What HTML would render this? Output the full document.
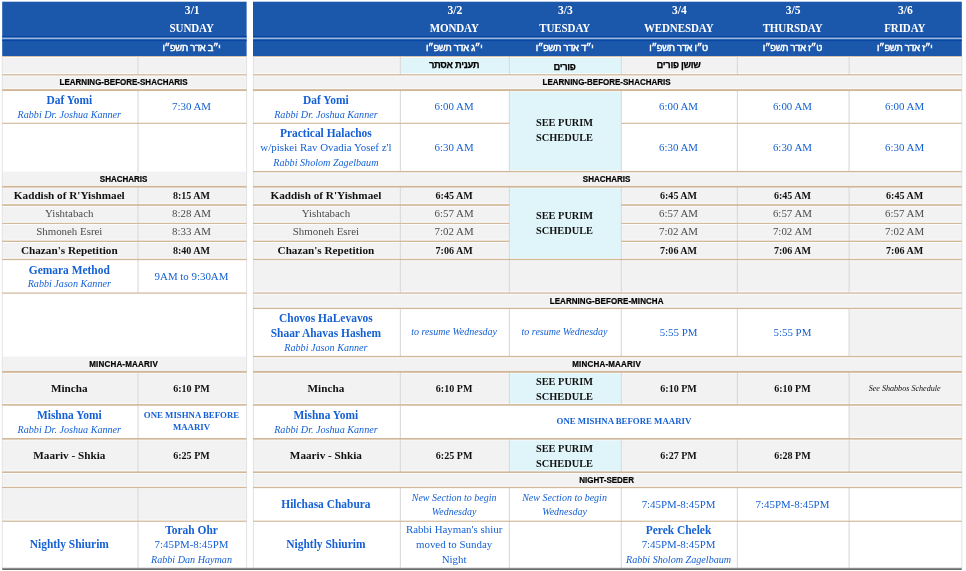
<!DOCTYPE html>
<html><head><meta charset="utf-8"><title>Schedule</title>
<style>
html,body{margin:0;padding:0;background:#fff;}
body{width:966px;height:571px;overflow:hidden;position:relative;font-family:"Liberation Serif",serif;}
svg{position:absolute;left:0;top:0;}
.c{filter:blur(0.3px);position:absolute;display:flex;align-items:center;justify-content:center;text-align:center;white-space:nowrap;box-sizing:border-box;padding-right:1.6px;}
.t{display:block;margin-top:-0.6px;}
.t.m{margin-top:2px;}
.l{font-size:10.9px;line-height:14.8px;height:14.8px;}
.l.b{font-size:11.45px;font-weight:bold;}
.l.i{font-size:10.15px;font-style:italic;}
.kb .l.b{font-size:11.2px;}
.kb .l.bt{font-size:10.05px;position:relative;top:1px;}
.kg .l{position:relative;top:-0.7px;}
.m .l:not(.b):not(.i){position:relative;top:-1px;}
.bl{color:#1560d4;}
.kb{color:#111;}
.kg{color:#4c4c4c;}
.kk{color:#111;}
.w{color:#fff;font-weight:bold;}
.hd{display:block;font-size:11.6px;line-height:17.5px;padding-top:0px;padding-left:1.5px;}
.dy{font-size:11px;letter-spacing:-0.1px;transform:scaleY(1.13);position:relative;top:-0.3px;left:-0.6px;}
.hb{display:block;font-family:"Liberation Sans",sans-serif;font-weight:normal;font-size:9.4px;line-height:12px;direction:rtl;letter-spacing:-0.3px;-webkit-text-stroke:0.45px #fff;padding-top:1px;}
.hk{display:block;font-family:"Liberation Sans",sans-serif;font-weight:bold;font-size:9.4px;line-height:12px;color:#000;direction:rtl;letter-spacing:-0.3px;-webkit-text-stroke:0.25px #000;}
.sec{display:block;font-family:"Liberation Sans",sans-serif;font-weight:bold;font-size:8px;letter-spacing:0;color:#000;line-height:10px;padding-top:0.5px;-webkit-text-stroke:0.2px #000;transform:scaleY(1.1);}
.pur{display:block;font-weight:bold;font-size:10.35px;line-height:14.3px;color:#111;padding-top:2.4px;}
.one{display:block;font-weight:bold;font-size:8.8px;line-height:11.7px;padding-top:0.5px;}
.l.sm{font-size:10px;}
.l.shab{font-size:8.1px;position:relative;top:1.2px;}
</style></head>
<body>
<svg width="966" height="571" viewBox="0 0 966 571">
<rect x="2.20" y="1.70" width="244.40" height="54.40" fill="#1b57ab"/>
<rect x="2.20" y="35.95" width="244.40" height="1.20" fill="#0646a2"/>
<rect x="2.20" y="39.85" width="244.40" height="1.20" fill="#0646a2"/>
<rect x="2.20" y="37.62" width="244.40" height="1.55" fill="#9cb7e0"/>
<rect x="2.20" y="56.10" width="244.40" height="34.00" fill="#f2f2f2"/>
<rect x="2.20" y="171.60" width="244.40" height="87.90" fill="#f2f2f2"/>
<rect x="2.20" y="356.50" width="244.40" height="48.40" fill="#f2f2f2"/>
<rect x="2.20" y="438.80" width="244.40" height="48.70" fill="#f2f2f2"/>
<rect x="253.00" y="1.70" width="708.80" height="54.40" fill="#1b57ab"/>
<rect x="253.00" y="35.95" width="708.80" height="1.20" fill="#0646a2"/>
<rect x="253.00" y="39.85" width="708.80" height="1.20" fill="#0646a2"/>
<rect x="253.00" y="37.62" width="708.80" height="1.55" fill="#9cb7e0"/>
<rect x="253.00" y="56.10" width="708.80" height="34.00" fill="#f2f2f2"/>
<rect x="253.00" y="171.60" width="708.80" height="121.50" fill="#f2f2f2"/>
<rect x="253.00" y="356.50" width="708.80" height="48.40" fill="#f2f2f2"/>
<rect x="253.00" y="438.80" width="708.80" height="48.70" fill="#f2f2f2"/>
<rect x="2.20" y="487.50" width="244.40" height="33.75" fill="#f2f2f2"/>
<rect x="253.00" y="293.10" width="708.80" height="15.30" fill="#f2f2f2"/>
<rect x="849.10" y="308.40" width="112.70" height="48.10" fill="#f2f2f2"/>
<rect x="849.10" y="404.90" width="112.70" height="33.90" fill="#f2f2f2"/>
<rect x="400.40" y="56.10" width="220.90" height="18.70" fill="#e0f5fa"/>
<rect x="509.40" y="90.10" width="111.90" height="81.50" fill="#e0f5fa"/>
<rect x="509.40" y="186.70" width="111.90" height="72.80" fill="#e0f5fa"/>
<rect x="509.40" y="371.80" width="111.90" height="33.10" fill="#e0f5fa"/>
<rect x="509.40" y="438.80" width="111.90" height="33.40" fill="#e0f5fa"/>
<rect x="2.20" y="56.85" width="244.40" height="0.9" fill="#fff" opacity="0.8"/>
<rect x="2.20" y="73.15" width="244.40" height="0.9" fill="#fff" opacity="0.8"/>
<rect x="2.20" y="75.55" width="244.40" height="0.9" fill="#fff" opacity="0.8"/>
<rect x="2.20" y="88.45" width="244.40" height="0.9" fill="#fff" opacity="0.8"/>
<rect x="2.20" y="90.85" width="244.40" height="0.9" fill="#fff" opacity="0.8"/>
<rect x="2.20" y="121.65" width="244.40" height="0.9" fill="#fff" opacity="0.8"/>
<rect x="2.20" y="124.05" width="244.40" height="0.9" fill="#fff" opacity="0.8"/>
<rect x="2.20" y="185.05" width="244.40" height="0.9" fill="#fff" opacity="0.8"/>
<rect x="2.20" y="187.45" width="244.40" height="0.9" fill="#fff" opacity="0.8"/>
<rect x="2.20" y="203.35" width="244.40" height="0.9" fill="#fff" opacity="0.8"/>
<rect x="2.20" y="205.75" width="244.40" height="0.9" fill="#fff" opacity="0.8"/>
<rect x="2.20" y="221.75" width="244.40" height="0.9" fill="#fff" opacity="0.8"/>
<rect x="2.20" y="224.15" width="244.40" height="0.9" fill="#fff" opacity="0.8"/>
<rect x="2.20" y="239.65" width="244.40" height="0.9" fill="#fff" opacity="0.8"/>
<rect x="2.20" y="242.05" width="244.40" height="0.9" fill="#fff" opacity="0.8"/>
<rect x="2.20" y="257.85" width="244.40" height="0.9" fill="#fff" opacity="0.8"/>
<rect x="2.20" y="260.25" width="244.40" height="0.9" fill="#fff" opacity="0.8"/>
<rect x="2.20" y="291.45" width="244.40" height="0.9" fill="#fff" opacity="0.8"/>
<rect x="2.20" y="293.85" width="244.40" height="0.9" fill="#fff" opacity="0.8"/>
<rect x="2.20" y="370.15" width="244.40" height="0.9" fill="#fff" opacity="0.8"/>
<rect x="2.20" y="372.55" width="244.40" height="0.9" fill="#fff" opacity="0.8"/>
<rect x="2.20" y="403.25" width="244.40" height="0.9" fill="#fff" opacity="0.8"/>
<rect x="2.20" y="405.65" width="244.40" height="0.9" fill="#fff" opacity="0.8"/>
<rect x="2.20" y="437.15" width="244.40" height="0.9" fill="#fff" opacity="0.8"/>
<rect x="2.20" y="439.55" width="244.40" height="0.9" fill="#fff" opacity="0.8"/>
<rect x="2.20" y="470.55" width="244.40" height="0.9" fill="#fff" opacity="0.8"/>
<rect x="2.20" y="472.95" width="244.40" height="0.9" fill="#fff" opacity="0.8"/>
<rect x="2.20" y="485.85" width="244.40" height="0.9" fill="#fff" opacity="0.8"/>
<rect x="2.20" y="488.25" width="244.40" height="0.9" fill="#fff" opacity="0.8"/>
<rect x="2.20" y="519.60" width="244.40" height="0.9" fill="#fff" opacity="0.8"/>
<rect x="2.20" y="522.00" width="244.40" height="0.9" fill="#fff" opacity="0.8"/>
<rect x="253.00" y="56.85" width="708.80" height="0.9" fill="#fff" opacity="0.8"/>
<rect x="253.00" y="73.15" width="708.80" height="0.9" fill="#fff" opacity="0.8"/>
<rect x="253.00" y="75.55" width="708.80" height="0.9" fill="#fff" opacity="0.8"/>
<rect x="253.00" y="88.45" width="708.80" height="0.9" fill="#fff" opacity="0.8"/>
<rect x="253.00" y="90.85" width="708.80" height="0.9" fill="#fff" opacity="0.8"/>
<rect x="253.00" y="121.65" width="256.40" height="0.9" fill="#fff" opacity="0.8"/>
<rect x="621.30" y="121.65" width="340.50" height="0.9" fill="#fff" opacity="0.8"/>
<rect x="253.00" y="124.05" width="256.40" height="0.9" fill="#fff" opacity="0.8"/>
<rect x="621.30" y="124.05" width="340.50" height="0.9" fill="#fff" opacity="0.8"/>
<rect x="253.00" y="169.95" width="708.80" height="0.9" fill="#fff" opacity="0.8"/>
<rect x="253.00" y="172.35" width="708.80" height="0.9" fill="#fff" opacity="0.8"/>
<rect x="253.00" y="185.05" width="708.80" height="0.9" fill="#fff" opacity="0.8"/>
<rect x="253.00" y="187.45" width="708.80" height="0.9" fill="#fff" opacity="0.8"/>
<rect x="253.00" y="203.35" width="256.40" height="0.9" fill="#fff" opacity="0.8"/>
<rect x="621.30" y="203.35" width="340.50" height="0.9" fill="#fff" opacity="0.8"/>
<rect x="253.00" y="205.75" width="256.40" height="0.9" fill="#fff" opacity="0.8"/>
<rect x="621.30" y="205.75" width="340.50" height="0.9" fill="#fff" opacity="0.8"/>
<rect x="253.00" y="221.75" width="256.40" height="0.9" fill="#fff" opacity="0.8"/>
<rect x="621.30" y="221.75" width="340.50" height="0.9" fill="#fff" opacity="0.8"/>
<rect x="253.00" y="224.15" width="256.40" height="0.9" fill="#fff" opacity="0.8"/>
<rect x="621.30" y="224.15" width="340.50" height="0.9" fill="#fff" opacity="0.8"/>
<rect x="253.00" y="239.65" width="256.40" height="0.9" fill="#fff" opacity="0.8"/>
<rect x="621.30" y="239.65" width="340.50" height="0.9" fill="#fff" opacity="0.8"/>
<rect x="253.00" y="242.05" width="256.40" height="0.9" fill="#fff" opacity="0.8"/>
<rect x="621.30" y="242.05" width="340.50" height="0.9" fill="#fff" opacity="0.8"/>
<rect x="253.00" y="257.85" width="708.80" height="0.9" fill="#fff" opacity="0.8"/>
<rect x="253.00" y="260.25" width="708.80" height="0.9" fill="#fff" opacity="0.8"/>
<rect x="253.00" y="291.45" width="708.80" height="0.9" fill="#fff" opacity="0.8"/>
<rect x="253.00" y="293.85" width="708.80" height="0.9" fill="#fff" opacity="0.8"/>
<rect x="253.00" y="306.75" width="708.80" height="0.9" fill="#fff" opacity="0.8"/>
<rect x="253.00" y="309.15" width="708.80" height="0.9" fill="#fff" opacity="0.8"/>
<rect x="253.00" y="354.85" width="708.80" height="0.9" fill="#fff" opacity="0.8"/>
<rect x="253.00" y="357.25" width="708.80" height="0.9" fill="#fff" opacity="0.8"/>
<rect x="253.00" y="370.15" width="708.80" height="0.9" fill="#fff" opacity="0.8"/>
<rect x="253.00" y="372.55" width="708.80" height="0.9" fill="#fff" opacity="0.8"/>
<rect x="253.00" y="403.25" width="708.80" height="0.9" fill="#fff" opacity="0.8"/>
<rect x="253.00" y="405.65" width="708.80" height="0.9" fill="#fff" opacity="0.8"/>
<rect x="253.00" y="437.15" width="708.80" height="0.9" fill="#fff" opacity="0.8"/>
<rect x="253.00" y="439.55" width="708.80" height="0.9" fill="#fff" opacity="0.8"/>
<rect x="253.00" y="470.55" width="708.80" height="0.9" fill="#fff" opacity="0.8"/>
<rect x="253.00" y="472.95" width="708.80" height="0.9" fill="#fff" opacity="0.8"/>
<rect x="253.00" y="485.85" width="708.80" height="0.9" fill="#fff" opacity="0.8"/>
<rect x="253.00" y="488.25" width="708.80" height="0.9" fill="#fff" opacity="0.8"/>
<rect x="253.00" y="519.60" width="708.80" height="0.9" fill="#fff" opacity="0.8"/>
<rect x="253.00" y="522.00" width="708.80" height="0.9" fill="#fff" opacity="0.8"/>
<rect x="137.40" y="56.10" width="1.20" height="18.70" fill="#dcdcdc"/>
<rect x="137.40" y="90.10" width="1.20" height="81.50" fill="#dcdcdc"/>
<rect x="137.40" y="186.70" width="1.20" height="106.40" fill="#dcdcdc"/>
<rect x="137.40" y="371.80" width="1.20" height="100.40" fill="#dcdcdc"/>
<rect x="137.40" y="487.50" width="1.20" height="80.80" fill="#dcdcdc"/>
<rect x="399.80" y="56.10" width="1.20" height="18.70" fill="#dcdcdc"/>
<rect x="508.80" y="56.10" width="1.20" height="18.70" fill="#dcdcdc"/>
<rect x="620.70" y="56.10" width="1.20" height="18.70" fill="#dcdcdc"/>
<rect x="736.80" y="56.10" width="1.20" height="18.70" fill="#dcdcdc"/>
<rect x="848.50" y="56.10" width="1.20" height="18.70" fill="#dcdcdc"/>
<rect x="399.80" y="90.10" width="1.20" height="81.50" fill="#dcdcdc"/>
<rect x="508.80" y="90.10" width="1.20" height="81.50" fill="#dcdcdc"/>
<rect x="620.70" y="90.10" width="1.20" height="81.50" fill="#dcdcdc"/>
<rect x="736.80" y="90.10" width="1.20" height="81.50" fill="#dcdcdc"/>
<rect x="848.50" y="90.10" width="1.20" height="81.50" fill="#dcdcdc"/>
<rect x="399.80" y="186.70" width="1.20" height="106.40" fill="#dcdcdc"/>
<rect x="508.80" y="186.70" width="1.20" height="106.40" fill="#dcdcdc"/>
<rect x="620.70" y="186.70" width="1.20" height="106.40" fill="#dcdcdc"/>
<rect x="736.80" y="186.70" width="1.20" height="106.40" fill="#dcdcdc"/>
<rect x="848.50" y="186.70" width="1.20" height="106.40" fill="#dcdcdc"/>
<rect x="399.80" y="308.40" width="1.20" height="48.10" fill="#dcdcdc"/>
<rect x="508.80" y="308.40" width="1.20" height="48.10" fill="#dcdcdc"/>
<rect x="620.70" y="308.40" width="1.20" height="48.10" fill="#dcdcdc"/>
<rect x="736.80" y="308.40" width="1.20" height="48.10" fill="#dcdcdc"/>
<rect x="848.50" y="308.40" width="1.20" height="48.10" fill="#dcdcdc"/>
<rect x="399.80" y="371.80" width="1.20" height="100.40" fill="#dcdcdc"/>
<rect x="508.80" y="371.80" width="1.20" height="33.10" fill="#dcdcdc"/>
<rect x="508.80" y="438.80" width="1.20" height="33.40" fill="#dcdcdc"/>
<rect x="620.70" y="371.80" width="1.20" height="33.10" fill="#dcdcdc"/>
<rect x="620.70" y="438.80" width="1.20" height="33.40" fill="#dcdcdc"/>
<rect x="736.80" y="371.80" width="1.20" height="33.10" fill="#dcdcdc"/>
<rect x="736.80" y="438.80" width="1.20" height="33.40" fill="#dcdcdc"/>
<rect x="848.50" y="371.80" width="1.20" height="100.40" fill="#dcdcdc"/>
<rect x="399.80" y="487.50" width="1.20" height="80.80" fill="#dcdcdc"/>
<rect x="508.80" y="487.50" width="1.20" height="80.80" fill="#dcdcdc"/>
<rect x="620.70" y="487.50" width="1.20" height="80.80" fill="#dcdcdc"/>
<rect x="736.80" y="487.50" width="1.20" height="80.80" fill="#dcdcdc"/>
<rect x="848.50" y="487.50" width="1.20" height="80.80" fill="#dcdcdc"/>
<rect x="1.70" y="56.10" width="1.00" height="512.20" fill="#e3e3e3"/>
<rect x="246.10" y="56.10" width="1.00" height="512.20" fill="#e3e3e3"/>
<rect x="252.90" y="56.10" width="1.00" height="512.20" fill="#e3e3e3"/>
<rect x="961.30" y="56.10" width="1.00" height="512.20" fill="#e3e3e3"/>
<rect x="2.20" y="56.00" width="244.40" height="1.00" fill="#d8c3a8"/>
<rect x="253.00" y="56.00" width="708.80" height="1.00" fill="#d8c3a8"/>
<rect x="2.20" y="74.20" width="244.40" height="1.20" fill="#d1b797"/>
<rect x="2.20" y="89.15" width="244.40" height="1.90" fill="#d1b797"/>
<rect x="2.20" y="122.75" width="244.40" height="1.10" fill="#d1b797"/>
<rect x="2.20" y="185.80" width="244.40" height="1.80" fill="#d1b797"/>
<rect x="2.20" y="204.20" width="244.40" height="1.60" fill="#d1b797"/>
<rect x="2.20" y="222.85" width="244.40" height="1.10" fill="#d1b797"/>
<rect x="2.20" y="240.62" width="244.40" height="1.35" fill="#d1b797"/>
<rect x="2.20" y="258.85" width="244.40" height="1.30" fill="#d1b797"/>
<rect x="2.20" y="292.50" width="244.40" height="1.20" fill="#d1b797"/>
<rect x="2.20" y="370.85" width="244.40" height="1.90" fill="#d1b797"/>
<rect x="2.20" y="404.10" width="244.40" height="1.60" fill="#d1b797"/>
<rect x="2.20" y="438.00" width="244.40" height="1.60" fill="#d1b797"/>
<rect x="2.20" y="471.40" width="244.40" height="1.60" fill="#d1b797"/>
<rect x="2.20" y="486.88" width="244.40" height="1.25" fill="#d1b797"/>
<rect x="2.20" y="520.67" width="244.40" height="1.15" fill="#d1b797"/>
<rect x="253.00" y="74.20" width="708.80" height="1.20" fill="#d1b797"/>
<rect x="253.00" y="89.15" width="708.80" height="1.90" fill="#d1b797"/>
<rect x="253.00" y="122.75" width="256.40" height="1.10" fill="#d1b797"/>
<rect x="621.30" y="122.75" width="340.50" height="1.10" fill="#d1b797"/>
<rect x="253.00" y="170.95" width="708.80" height="1.30" fill="#d1b797"/>
<rect x="253.00" y="185.80" width="708.80" height="1.80" fill="#d1b797"/>
<rect x="253.00" y="204.20" width="256.40" height="1.60" fill="#d1b797"/>
<rect x="621.30" y="204.20" width="340.50" height="1.60" fill="#d1b797"/>
<rect x="253.00" y="222.85" width="256.40" height="1.10" fill="#d1b797"/>
<rect x="621.30" y="222.85" width="340.50" height="1.10" fill="#d1b797"/>
<rect x="253.00" y="240.62" width="256.40" height="1.35" fill="#d1b797"/>
<rect x="621.30" y="240.62" width="340.50" height="1.35" fill="#d1b797"/>
<rect x="253.00" y="258.85" width="708.80" height="1.30" fill="#d1b797"/>
<rect x="253.00" y="292.50" width="708.80" height="1.20" fill="#d1b797"/>
<rect x="253.00" y="307.75" width="708.80" height="1.30" fill="#d1b797"/>
<rect x="253.00" y="355.85" width="708.80" height="1.30" fill="#d1b797"/>
<rect x="253.00" y="370.85" width="708.80" height="1.90" fill="#d1b797"/>
<rect x="253.00" y="404.10" width="708.80" height="1.60" fill="#d1b797"/>
<rect x="253.00" y="438.00" width="708.80" height="1.60" fill="#d1b797"/>
<rect x="253.00" y="471.40" width="708.80" height="1.60" fill="#d1b797"/>
<rect x="253.00" y="486.88" width="708.80" height="1.25" fill="#d1b797"/>
<rect x="253.00" y="520.67" width="708.80" height="1.15" fill="#d1b797"/>
<rect x="2.20" y="567.6" width="959.60" height="1.0" fill="#c4c4c4"/>
<rect x="2.20" y="568.4" width="959.60" height="1.5" fill="#5a5a5a"/>
</svg>
<div class="c w" style="left:138.0px;top:1.7px;width:108.6px;height:36.6px"><div class="hd"><div>3/1</div><div class="dy">SUNDAY</div></div></div>
<div class="c w" style="left:138.0px;top:38.3px;width:108.6px;height:17.8px"><span class="hb">י״ב אדר תשפ״ו</span></div>
<div class="c w" style="left:400.4px;top:1.7px;width:109.0px;height:36.6px"><div class="hd"><div>3/2</div><div class="dy">MONDAY</div></div></div>
<div class="c w" style="left:400.4px;top:38.3px;width:109.0px;height:17.8px"><span class="hb">י״ג אדר תשפ״ו</span></div>
<div class="c w" style="left:509.4px;top:1.7px;width:111.9px;height:36.6px"><div class="hd"><div>3/3</div><div class="dy">TUESDAY</div></div></div>
<div class="c w" style="left:509.4px;top:38.3px;width:111.9px;height:17.8px"><span class="hb">י״ד אדר תשפ״ו</span></div>
<div class="c w" style="left:621.3px;top:1.7px;width:116.1px;height:36.6px"><div class="hd"><div>3/4</div><div class="dy">WEDNESDAY</div></div></div>
<div class="c w" style="left:621.3px;top:38.3px;width:116.1px;height:17.8px"><span class="hb">ט״ו אדר תשפ״ו</span></div>
<div class="c w" style="left:737.4px;top:1.7px;width:111.7px;height:36.6px"><div class="hd"><div>3/5</div><div class="dy">THURSDAY</div></div></div>
<div class="c w" style="left:737.4px;top:38.3px;width:111.7px;height:17.8px"><span class="hb">ט״ז אדר תשפ״ו</span></div>
<div class="c w" style="left:849.1px;top:1.7px;width:112.7px;height:36.6px"><div class="hd"><div>3/6</div><div class="dy">FRIDAY</div></div></div>
<div class="c w" style="left:849.1px;top:38.3px;width:112.7px;height:17.8px"><span class="hb">י״ז אדר תשפ״ו</span></div>
<div class="c " style="left:400.4px;top:56.1px;width:109.0px;height:18.7px"><span class="hk">תענית אסתר</span></div>
<div class="c " style="left:509.4px;top:56.1px;width:111.9px;height:18.7px"><span class="hk" style="position:relative;top:1.5px">פורים</span></div>
<div class="c " style="left:621.3px;top:56.1px;width:116.1px;height:18.7px"><span class="hk" style="position:relative;top:-0.5px">שושן פורים</span></div>
<div class="c " style="left:2.2px;top:74.8px;width:244.4px;height:15.3px"><span class="sec" style="letter-spacing:0px;margin-top:0px">LEARNING-BEFORE-SHACHARIS</span></div>
<div class="c " style="left:253.0px;top:74.8px;width:708.8px;height:15.3px"><span class="sec" style="letter-spacing:0px;margin-top:0px">LEARNING-BEFORE-SHACHARIS</span></div>
<div class="c " style="left:2.2px;top:171.6px;width:244.4px;height:15.1px"><span class="sec" style="letter-spacing:0px;margin-top:0px">SHACHARIS</span></div>
<div class="c " style="left:253.0px;top:171.6px;width:708.8px;height:15.1px"><span class="sec" style="letter-spacing:0px;margin-top:0px">SHACHARIS</span></div>
<div class="c " style="left:253.0px;top:293.1px;width:708.8px;height:15.3px"><span class="sec" style="letter-spacing:0.06px;margin-top:1px">LEARNING-BEFORE-MINCHA</span></div>
<div class="c " style="left:2.2px;top:356.5px;width:244.4px;height:15.3px"><span class="sec" style="letter-spacing:0.2px;margin-top:0px">MINCHA-MAARIV</span></div>
<div class="c " style="left:253.0px;top:356.5px;width:708.8px;height:15.3px"><span class="sec" style="letter-spacing:0.2px;margin-top:0px">MINCHA-MAARIV</span></div>
<div class="c " style="left:253.0px;top:472.2px;width:708.8px;height:15.3px"><span class="sec" style="letter-spacing:0px;margin-top:0px">NIGHT-SEDER</span></div>
<div class="c bl" style="left:2.2px;top:90.1px;width:135.8px;height:33.2px"><div class="t m"><div class="l b">Daf Yomi</div><div class="l i">Rabbi Dr. Joshua Kanner</div></div></div>
<div class="c bl" style="left:138.0px;top:90.1px;width:108.6px;height:33.2px"><div class="t"><div class="l">7:30 AM</div></div></div>
<div class="c bl" style="left:253.0px;top:90.1px;width:147.4px;height:33.2px"><div class="t m"><div class="l b">Daf Yomi</div><div class="l i">Rabbi Dr. Joshua Kanner</div></div></div>
<div class="c bl" style="left:400.4px;top:90.1px;width:109.0px;height:33.2px"><div class="t"><div class="l">6:00 AM</div></div></div>
<div class="c bl" style="left:400.4px;top:123.3px;width:109.0px;height:48.3px"><div class="t"><div class="l">6:30 AM</div></div></div>
<div class="c bl" style="left:621.3px;top:90.1px;width:116.1px;height:33.2px"><div class="t"><div class="l">6:00 AM</div></div></div>
<div class="c bl" style="left:621.3px;top:123.3px;width:116.1px;height:48.3px"><div class="t"><div class="l">6:30 AM</div></div></div>
<div class="c bl" style="left:737.4px;top:90.1px;width:111.7px;height:33.2px"><div class="t"><div class="l">6:00 AM</div></div></div>
<div class="c bl" style="left:737.4px;top:123.3px;width:111.7px;height:48.3px"><div class="t"><div class="l">6:30 AM</div></div></div>
<div class="c bl" style="left:849.1px;top:90.1px;width:112.7px;height:33.2px"><div class="t"><div class="l">6:00 AM</div></div></div>
<div class="c bl" style="left:849.1px;top:123.3px;width:112.7px;height:48.3px"><div class="t"><div class="l">6:30 AM</div></div></div>
<div class="c bl" style="left:253.0px;top:123.3px;width:147.4px;height:48.3px"><div class="t m"><div class="l b">Practical Halachos</div><div class="l">w/piskei Rav Ovadia Yosef z'l</div><div class="l i">Rabbi Sholom Zagelbaum</div></div></div>
<div class="c " style="left:509.4px;top:90.1px;width:111.9px;height:81.5px"><div class="pur" style="position:relative;top:-1.6px;line-height:15px"><div>SEE PURIM</div><div>SCHEDULE</div></div></div>
<div class="c " style="left:509.4px;top:186.7px;width:111.9px;height:72.8px"><div class="pur" style="position:relative;top:-0.8px;line-height:15px"><div>SEE PURIM</div><div>SCHEDULE</div></div></div>
<div class="c " style="left:509.4px;top:371.8px;width:111.9px;height:33.1px"><div class="pur"><div>SEE PURIM</div><div>SCHEDULE</div></div></div>
<div class="c " style="left:509.4px;top:438.8px;width:111.9px;height:33.4px"><div class="pur"><div>SEE PURIM</div><div>SCHEDULE</div></div></div>
<div class="c kb" style="left:2.2px;top:186.7px;width:135.8px;height:18.3px"><div class="t"><div class="l b">Kaddish of R'Yishmael</div></div></div>
<div class="c kb" style="left:138.0px;top:186.7px;width:108.6px;height:18.3px"><div class="t"><div class="l b bt">8:15 AM</div></div></div>
<div class="c kb" style="left:253.0px;top:186.7px;width:147.4px;height:18.3px"><div class="t"><div class="l b">Kaddish of R'Yishmael</div></div></div>
<div class="c kb" style="left:400.4px;top:186.7px;width:109.0px;height:18.3px"><div class="t"><div class="l b bt">6:45 AM</div></div></div>
<div class="c kb" style="left:621.3px;top:186.7px;width:116.1px;height:18.3px"><div class="t"><div class="l b bt">6:45 AM</div></div></div>
<div class="c kb" style="left:737.4px;top:186.7px;width:111.7px;height:18.3px"><div class="t"><div class="l b bt">6:45 AM</div></div></div>
<div class="c kb" style="left:849.1px;top:186.7px;width:112.7px;height:18.3px"><div class="t"><div class="l b bt">6:45 AM</div></div></div>
<div class="c kg" style="left:2.2px;top:205.0px;width:135.8px;height:18.4px"><div class="t"><div class="l">Yishtabach</div></div></div>
<div class="c kg" style="left:138.0px;top:205.0px;width:108.6px;height:18.4px"><div class="t"><div class="l">8:28 AM</div></div></div>
<div class="c kg" style="left:253.0px;top:205.0px;width:147.4px;height:18.4px"><div class="t"><div class="l">Yishtabach</div></div></div>
<div class="c kg" style="left:400.4px;top:205.0px;width:109.0px;height:18.4px"><div class="t"><div class="l">6:57 AM</div></div></div>
<div class="c kg" style="left:621.3px;top:205.0px;width:116.1px;height:18.4px"><div class="t"><div class="l">6:57 AM</div></div></div>
<div class="c kg" style="left:737.4px;top:205.0px;width:111.7px;height:18.4px"><div class="t"><div class="l">6:57 AM</div></div></div>
<div class="c kg" style="left:849.1px;top:205.0px;width:112.7px;height:18.4px"><div class="t"><div class="l">6:57 AM</div></div></div>
<div class="c kg" style="left:2.2px;top:223.4px;width:135.8px;height:17.9px"><div class="t"><div class="l">Shmoneh Esrei</div></div></div>
<div class="c kg" style="left:138.0px;top:223.4px;width:108.6px;height:17.9px"><div class="t"><div class="l">8:33 AM</div></div></div>
<div class="c kg" style="left:253.0px;top:223.4px;width:147.4px;height:17.9px"><div class="t"><div class="l">Shmoneh Esrei</div></div></div>
<div class="c kg" style="left:400.4px;top:223.4px;width:109.0px;height:17.9px"><div class="t"><div class="l">7:02 AM</div></div></div>
<div class="c kg" style="left:621.3px;top:223.4px;width:116.1px;height:17.9px"><div class="t"><div class="l">7:02 AM</div></div></div>
<div class="c kg" style="left:737.4px;top:223.4px;width:111.7px;height:17.9px"><div class="t"><div class="l">7:02 AM</div></div></div>
<div class="c kg" style="left:849.1px;top:223.4px;width:112.7px;height:17.9px"><div class="t"><div class="l">7:02 AM</div></div></div>
<div class="c kb" style="left:2.2px;top:241.3px;width:135.8px;height:18.2px"><div class="t"><div class="l b">Chazan's Repetition</div></div></div>
<div class="c kb" style="left:138.0px;top:241.3px;width:108.6px;height:18.2px"><div class="t"><div class="l b bt">8:40 AM</div></div></div>
<div class="c kb" style="left:253.0px;top:241.3px;width:147.4px;height:18.2px"><div class="t"><div class="l b">Chazan's Repetition</div></div></div>
<div class="c kb" style="left:400.4px;top:241.3px;width:109.0px;height:18.2px"><div class="t"><div class="l b bt">7:06 AM</div></div></div>
<div class="c kb" style="left:621.3px;top:241.3px;width:116.1px;height:18.2px"><div class="t"><div class="l b bt">7:06 AM</div></div></div>
<div class="c kb" style="left:737.4px;top:241.3px;width:111.7px;height:18.2px"><div class="t"><div class="l b bt">7:06 AM</div></div></div>
<div class="c kb" style="left:849.1px;top:241.3px;width:112.7px;height:18.2px"><div class="t"><div class="l b bt">7:06 AM</div></div></div>
<div class="c bl" style="left:2.2px;top:259.5px;width:135.8px;height:33.6px"><div class="t m"><div class="l b">Gemara Method</div><div class="l i">Rabbi Jason Kanner</div></div></div>
<div class="c bl" style="left:138.0px;top:259.5px;width:108.6px;height:33.6px"><div class="t"><div class="l">9AM to 9:30AM</div></div></div>
<div class="c bl" style="left:253.0px;top:308.4px;width:147.4px;height:48.1px"><div class="t m"><div class="l b">Chovos HaLevavos</div><div class="l b">Shaar Ahavas Hashem</div><div class="l i">Rabbi Jason Kanner</div></div></div>
<div class="c bl" style="left:400.4px;top:308.4px;width:109.0px;height:48.1px"><div class="t"><div class="l i sm">to resume Wednesday</div></div></div>
<div class="c bl" style="left:509.4px;top:308.4px;width:111.9px;height:48.1px"><div class="t"><div class="l i sm">to resume Wednesday</div></div></div>
<div class="c bl" style="left:621.3px;top:308.4px;width:116.1px;height:48.1px"><div class="t"><div class="l">5:55 PM</div></div></div>
<div class="c bl" style="left:737.4px;top:308.4px;width:111.7px;height:48.1px"><div class="t"><div class="l">5:55 PM</div></div></div>
<div class="c kb" style="left:2.2px;top:371.8px;width:135.8px;height:33.1px"><div class="t"><div class="l b">Mincha</div></div></div>
<div class="c kb" style="left:138.0px;top:371.8px;width:108.6px;height:33.1px"><div class="t"><div class="l b bt">6:10 PM</div></div></div>
<div class="c kb" style="left:253.0px;top:371.8px;width:147.4px;height:33.1px"><div class="t"><div class="l b">Mincha</div></div></div>
<div class="c kb" style="left:400.4px;top:371.8px;width:109.0px;height:33.1px"><div class="t"><div class="l b bt">6:10 PM</div></div></div>
<div class="c kb" style="left:621.3px;top:371.8px;width:116.1px;height:33.1px"><div class="t"><div class="l b bt">6:10 PM</div></div></div>
<div class="c kb" style="left:737.4px;top:371.8px;width:111.7px;height:33.1px"><div class="t"><div class="l b bt">6:10 PM</div></div></div>
<div class="c kk" style="left:849.1px;top:371.8px;width:112.7px;height:33.1px"><div class="t"><div class="l i shab">See Shabbos Schedule</div></div></div>
<div class="c bl" style="left:2.2px;top:404.9px;width:135.8px;height:33.9px"><div class="t m"><div class="l b">Mishna Yomi</div><div class="l i">Rabbi Dr. Joshua Kanner</div></div></div>
<div class="c bl" style="left:138.0px;top:404.9px;width:108.6px;height:33.9px"><div class="t"><div class="one"><div>ONE MISHNA BEFORE</div><div>MAARIV</div></div></div></div>
<div class="c bl" style="left:253.0px;top:404.9px;width:147.4px;height:33.9px"><div class="t m"><div class="l b">Mishna Yomi</div><div class="l i">Rabbi Dr. Joshua Kanner</div></div></div>
<div class="c bl" style="left:400.4px;top:404.9px;width:448.7px;height:33.9px"><div class="t"><div class="one"><div>ONE MISHNA BEFORE MAARIV</div></div></div></div>
<div class="c kb" style="left:2.2px;top:438.8px;width:135.8px;height:33.4px"><div class="t"><div class="l b">Maariv - Shkia</div></div></div>
<div class="c kb" style="left:138.0px;top:438.8px;width:108.6px;height:33.4px"><div class="t"><div class="l b bt">6:25 PM</div></div></div>
<div class="c kb" style="left:253.0px;top:438.8px;width:147.4px;height:33.4px"><div class="t"><div class="l b">Maariv - Shkia</div></div></div>
<div class="c kb" style="left:400.4px;top:438.8px;width:109.0px;height:33.4px"><div class="t"><div class="l b bt">6:25 PM</div></div></div>
<div class="c kb" style="left:621.3px;top:438.8px;width:116.1px;height:33.4px"><div class="t"><div class="l b bt">6:27 PM</div></div></div>
<div class="c kb" style="left:737.4px;top:438.8px;width:111.7px;height:33.4px"><div class="t"><div class="l b bt">6:28 PM</div></div></div>
<div class="c bl" style="left:253.0px;top:487.5px;width:147.4px;height:33.8px"><div class="t"><div class="l b">Hilchasa Chabura</div></div></div>
<div class="c bl" style="left:400.4px;top:487.5px;width:109.0px;height:33.8px"><div class="t m"><div class="l i sm">New Section to begin</div><div class="l i sm">Wednesday</div></div></div>
<div class="c bl" style="left:509.4px;top:487.5px;width:111.9px;height:33.8px"><div class="t m"><div class="l i sm">New Section to begin</div><div class="l i sm">Wednesday</div></div></div>
<div class="c bl" style="left:621.3px;top:487.5px;width:116.1px;height:33.8px"><div class="t"><div class="l">7:45PM-8:45PM</div></div></div>
<div class="c bl" style="left:737.4px;top:487.5px;width:111.7px;height:33.8px"><div class="t"><div class="l">7:45PM-8:45PM</div></div></div>
<div class="c bl" style="left:2.2px;top:521.2px;width:135.8px;height:47.0px"><div class="t"><div class="l b">Nightly Shiurim</div></div></div>
<div class="c bl" style="left:138.0px;top:521.2px;width:108.6px;height:47.0px"><div class="t m"><div class="l b">Torah Ohr</div><div class="l">7:45PM-8:45PM</div><div class="l i">Rabbi Dan Hayman</div></div></div>
<div class="c bl" style="left:253.0px;top:521.2px;width:147.4px;height:47.0px"><div class="t"><div class="l b">Nightly Shiurim</div></div></div>
<div class="c bl" style="left:400.4px;top:521.2px;width:109.0px;height:47.0px"><div class="t m"><div class="l">Rabbi Hayman's shiur</div><div class="l">moved to Sunday</div><div class="l">Night</div></div></div>
<div class="c bl" style="left:621.3px;top:521.2px;width:116.1px;height:47.0px"><div class="t m"><div class="l b">Perek Chelek</div><div class="l">7:45PM-8:45PM</div><div class="l i">Rabbi Sholom Zagelbaum</div></div></div>
</body></html>
